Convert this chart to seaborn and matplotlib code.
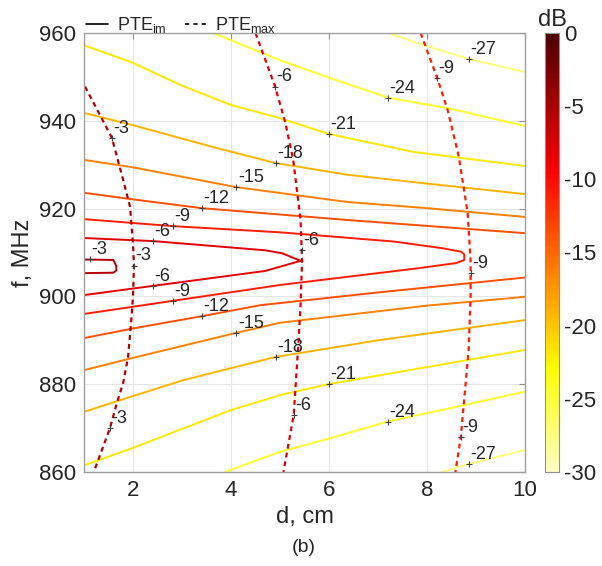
import matplotlib
matplotlib.use("Agg")
import numpy as np
import pandas as pd
import matplotlib.pyplot as plt
import seaborn as sns
from matplotlib.colors import ListedColormap, Normalize
from matplotlib.cm import ScalarMappable
from matplotlib.lines import Line2D

# PTE_im contour lines, (d [cm], f [MHz])
IM_27_UP = [(7.2, 960), (8.0, 957.0), (8.85, 954.1), (10, 951.1)]
IM_24_UP = [(3.64, 960), (5.0, 953.8), (6.03, 949.7), (7.2, 945.3), (8.5, 942.7), (10, 938.8)]
IM_21_UP = [(1, 957.2), (2, 953.2), (2.96, 948.2), (4.0, 943.6), (5.0, 940.6), (6.0, 937.0),
            (7.73, 932.9), (10, 929.7)]
IM_18_UP = [(1, 941.8), (2, 939.0), (3.64, 934.0), (4.9, 930.4), (6.38, 927.7), (8.0, 925.7), (10, 923.3)]
IM_15_UP = [(1, 931.1), (2, 929.4), (4.1, 924.9), (6.38, 921.5), (8.0, 920.1), (10, 918.1)]
IM_12_UP = [(1, 923.6), (2.0, 922.1), (3.4, 920.1), (6.38, 917.4), (10, 914.4)]
IM_9_LOOP = [(1, 917.6), (2.82, 916.0), (5.0, 914.6), (7.32, 912.5), (8.3, 911.0), (8.69, 910.2),
             (8.76, 909.6), (8.76, 908.3), (8.6, 907.6), (7.81, 906.4), (5.0, 902.6), (2.82, 899.0),
             (1, 896.0)]
IM_6_LOOP = [(1, 913.3), (2.41, 912.6), (4.7, 910.5), (5.05, 909.8), (5.42, 908.1), (4.7, 905.8),
             (2.41, 902.4), (1, 900.3)]
IM_3_LOOP = [(1, 908.4), (1.6, 908.3), (1.66, 906.9), (1.66, 905.9), (1.6, 905.4), (1, 905.3)]
IM_12_LO = [(1, 890.5), (2.0, 892.7), (3.41, 895.5), (4.6, 898.0), (7.0, 900.9), (10, 904.3)]
IM_15_LO = [(1, 883.2), (2.0, 886.0), (4.11, 891.7), (5.0, 894.0), (6.38, 895.8), (8.0, 897.9), (10, 899.9)]
IM_18_LO = [(1, 873.7), (2, 877.3), (3.02, 880.9), (4.91, 886.2), (7.0, 890.0), (10, 894.6)]
IM_21_LO = [(1, 861.5), (2, 865.5), (4, 874.1), (5.0, 877.5), (5.99, 880.0), (8, 883.9), (10, 887.8)]
IM_24_LO = [(3.88, 860), (5.0, 864.6), (6.0, 867.6), (7.2, 871.5), (8.5, 874.6), (10, 878.3)]
IM_27_LO = [(8.3, 860), (8.85, 861.8), (10, 865.0)]

IM_CURVES = {
    "27u": (-27, IM_27_UP), "24u": (-24, IM_24_UP), "21u": (-21, IM_21_UP),
    "18u": (-18, IM_18_UP), "15u": (-15, IM_15_UP), "12u": (-12, IM_12_UP),
    "9": (-9, IM_9_LOOP), "6": (-6, IM_6_LOOP), "3": (-3, IM_3_LOOP),
    "12l": (-12, IM_12_LO), "15l": (-15, IM_15_LO), "18l": (-18, IM_18_LO),
    "21l": (-21, IM_21_LO), "24l": (-24, IM_24_LO), "27l": (-27, IM_27_LO),
}

# PTE_max contour lines (dashed)
MAX_3 = [(1.02, 947.8), (1.36, 940.6), (1.57, 936.1), (1.8, 926.5), (1.94, 920.4), (2.0, 912),
         (2.02, 907), (2.0, 900), (1.97, 895.3), (1.9, 886.2), (1.8, 880.3), (1.67, 875.7),
         (1.53, 870), (1.2, 860)]
MAX_6 = [(4.5, 960), (4.9, 947.8), (5.11, 939.5), (5.27, 931.1), (5.42, 917.4), (5.45, 908),
         (5.42, 898), (5.38, 890.1), (5.28, 873), (5.07, 860)]
MAX_9 = [(7.87, 960), (8.21, 949.7), (8.42, 942.5), (8.65, 931.8), (8.83, 919), (8.89, 908),
         (8.89, 900), (8.85, 887.8), (8.69, 868), (8.58, 860)]

MAX_CURVES = {"m3": (-3, MAX_3), "m6": (-6, MAX_6), "m9": (-9, MAX_9)}

# contour labels (d, f, text)
IM_LABELS = [(1.12, 908.5, "-3"), (2.41, 912.6, "-6"), (2.82, 916.0, "-9"), (3.41, 920.1, "-12"),
             (4.11, 924.9, "-15"), (4.91, 930.4, "-18"), (5.99, 937.0, "-21"), (7.2, 945.2, "-24"),
             (8.85, 954.1, "-27"),
             (2.41, 902.4, "-6"), (2.82, 899.0, "-9"), (3.41, 895.5, "-12"), (4.11, 891.7, "-15"),
             (4.91, 886.2, "-18"), (5.99, 880.0, "-21"), (7.2, 871.4, "-24"), (8.85, 861.8, "-27")]
MAX_LABELS = [(1.57, 936.1, "-3"), (2.02, 907.0, "-3"), (1.53, 870.0, "-3"),
              (4.9, 947.8, "-6"), (5.45, 910.6, "-6"), (5.28, 873.0, "-6"),
              (8.21, 949.7, "-9"), (8.89, 905.3, "-9"), (8.69, 868.0, "-9")]

CB_TICKS = [0, -5, -10, -15, -20, -25, -30]


def to_frame(curves):
    rows = []
    for name, (level, pts) in curves.items():
        for i, (d, f) in enumerate(pts):
            rows.append({"curve": name, "level": level, "order": i, "d": d, "f": f})
    return pd.DataFrame(rows)


def main():
    sns.set_style("white")
    plt.rcParams["font.family"] = ["Liberation Sans", "DejaVu Sans"]
    plt.rcParams["axes.unicode_minus"] = False
    plt.rcParams["mathtext.fontset"] = "custom"
    plt.rcParams["mathtext.rm"] = "Liberation Sans"

    cmap = ListedColormap(plt.cm.hot(np.linspace(0.94, 0.10, 256)))
    norm = Normalize(vmin=-30, vmax=0)
    # contour lines look a bit lighter than the colour bar
    line_norm = Normalize(vmin=-30, vmax=3)

    fig = plt.figure(figsize=(6.02, 5.66), dpi=100)
    ax = fig.add_axes([84 / 602, 1 - 472 / 566, 441 / 602, 439 / 566])
    cax = fig.add_axes([545 / 602, 1 - 472 / 566, 14 / 602, 439 / 566])

    im_df = to_frame(IM_CURVES)
    max_df = to_frame(MAX_CURVES)

    sns.lineplot(data=im_df, x="d", y="f", units="curve", hue="level", palette=cmap,
                 hue_norm=line_norm, estimator=None, sort=False, legend=False, lw=1.4, ax=ax)
    sns.lineplot(data=max_df, x="d", y="f", units="curve", hue="level", palette=cmap,
                 hue_norm=line_norm, estimator=None, sort=False, legend=False, lw=1.6,
                 linestyle=(0, (2.2, 1.8)), ax=ax)

    for d, f, txt in IM_LABELS + MAX_LABELS:
        ax.plot(d, f, "+", color="#404040", ms=4, mew=0.8)
        ax.annotate(txt, (d, f), xytext=(1, 7), textcoords="offset points",
                    ha="left", va="center", fontsize=13)

    ax.set_xlim(1, 10)
    ax.set_ylim(860, 960)
    ax.set_xticks([2, 4, 6, 8, 10])
    ax.set_yticks(np.arange(860, 961, 20))
    ax.grid(True, color="#e6e6e6", lw=0.8)
    ax.tick_params(direction="in", top=True, right=True, length=4, width=0.8,
                   color="#909090", labelsize=16, pad=6)
    for sp in ax.spines.values():
        sp.set_color("#a0a0a0")
        sp.set_linewidth(1.0)
    ax.set_xlabel("d, cm", fontsize=17, labelpad=3)
    ax.set_ylabel("f, MHz", fontsize=17, labelpad=3)

    handles = [Line2D([], [], color="k", lw=1.2),
               Line2D([], [], color="k", lw=1.2, ls=(0, (2.5, 2.5)))]
    ax.legend(handles, ["PTE$_{\\rm im}$", "PTE$_{\\rm max}$"], loc="lower left",
              bbox_to_anchor=(0.005, 0.995), ncol=2, frameon=False, fontsize=13,
              handlelength=1.2, handletextpad=0.5, columnspacing=1.0, borderaxespad=0,
              borderpad=0)

    cb = fig.colorbar(ScalarMappable(norm=norm, cmap=cmap), cax=cax, ticks=CB_TICKS)
    cb.ax.tick_params(labelsize=16, direction="in", length=3, color="#606060")
    cb.outline.set_edgecolor("#909090")
    fig.text(552 / 602, 1 - 20 / 566, "dB", ha="center", va="center", fontsize=17)

    fig.text(304 / 602, 1 - 548 / 566, "(b)", ha="center", va="center", fontsize=14)

    fig.savefig("out.png", dpi=100)
    plt.close(fig)


if __name__ == "__main__":
    main()
